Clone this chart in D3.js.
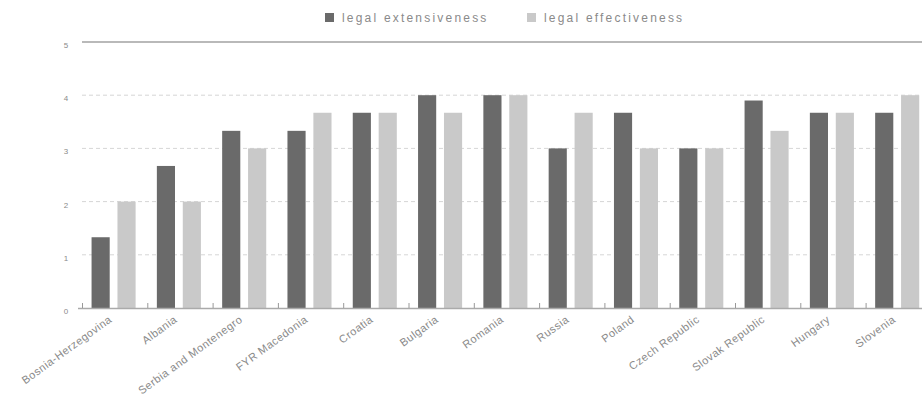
<!DOCTYPE html>
<html>
<head>
<meta charset="utf-8">
<script src="https://cdn.jsdelivr.net/npm/d3@7"></script>
<style>
  html, body { margin: 0; padding: 0; background: #fff; }
  svg { display: block; font-family: "Liberation Sans", Arial, sans-serif; }
</style>
</head>
<body>
<svg id="chart" width="922" height="404"></svg>
<script>
// Country scores on the two legal dimensions (scale 0–5)
const countries = [
  "Bosnia-Herzegovina", "Albania", "Serbia and Montenegro", "FYR Macedonia",
  "Croatia", "Bulgaria", "Romania", "Russia", "Poland", "Czech Republic",
  "Slovak Republic", "Hungary", "Slovenia"
];
const seriesNames = ["legal extensiveness", "legal effectiveness"];
const extensiveness = [1.33, 2.67, 3.33, 3.33, 3.67, 4.0, 4.0, 3.0, 3.67, 3.0, 3.9, 3.67, 3.67];
const effectiveness = [2.0, 2.0, 3.0, 3.67, 3.67, 3.67, 4.0, 3.67, 3.0, 3.0, 3.33, 3.67, 4.0];
const yTicks = [0, 1, 2, 3, 4, 5];

const colors = ["#6a6a6a", "#c9c9c9"];
const svg = d3.select("#chart");

const left = 82, bandStep = 65.3;
const y = d3.scaleLinear().domain([0, 5]).range([308, 42]);
const x0 = d3.scaleBand().domain(countries)
  .range([left, left + bandStep * countries.length]).paddingInner(0).paddingOuter(0);
const x1 = d3.scaleBand().domain(seriesNames).range([0, x0.bandwidth()])
  .paddingInner(0.3).paddingOuter(0.41).align(0.45);

const rows = countries.map((c, i) => ({ country: c, values: [extensiveness[i], effectiveness[i]] }));

// Gridlines for 1..4 (dashed), solid rule at 5
const grid = svg.append("g");
grid.selectAll("line.g").data(yTicks.filter(t => t > 0 && t < 5)).join("line")
  .attr("x1", left).attr("x2", 922)
  .attr("y1", d => y(d)).attr("y2", d => y(d))
  .attr("stroke", "#d6d6d6").attr("stroke-width", 1).attr("stroke-dasharray", "4,3");
grid.append("line")
  .attr("x1", left).attr("x2", 922).attr("y1", y(5)).attr("y2", y(5))
  .attr("stroke", "#b9b9b9").attr("stroke-width", 2);

// Y axis labels
const yAxis = d3.axisLeft(y).tickValues(yTicks).tickSize(0).tickPadding(0).tickFormat(d3.format("d"));
const ya = svg.append("g").attr("transform", `translate(66,3)`).call(yAxis);
ya.select(".domain").remove();
ya.selectAll("text").attr("fill", "#8a8a8a").attr("font-size", 8).attr("text-anchor", "middle");

// Bars
const groups = svg.append("g").selectAll("g").data(rows).join("g")
  .attr("transform", d => `translate(${x0(d.country)},0)`);
groups.selectAll("rect").data(d => d.values.map((v, k) => ({ k, v }))).join("rect")
  .attr("x", d => x1(seriesNames[d.k]))
  .attr("width", x1.bandwidth())
  .attr("y", d => y(d.v))
  .attr("height", d => y(0) - y(d.v))
  .attr("fill", d => colors[d.k]);

// Baseline with small upward ticks at band edges
const xb = svg.append("g").attr("transform", `translate(0,${y(0)})`);
xb.append("line").attr("x1", left - 4).attr("x2", 922).attr("y1", 0.5).attr("y2", 0.5)
  .attr("stroke", "#aaaaaa").attr("stroke-width", 1.5);
xb.selectAll("line.t").data(countries).join("line").attr("class", "t")
  .attr("x1", d => x0(d) + 0.5).attr("x2", d => x0(d) + 0.5)
  .attr("y1", 0).attr("y2", -5).attr("stroke", "#999").attr("stroke-width", 1);

// Category labels, rotated
const xl = d3.axisBottom(x0).tickSize(0).tickPadding(0);
const xlg = svg.append("g").attr("transform", `translate(0,${y(0)})`).call(xl);
xlg.select(".domain").remove();
xlg.selectAll("text")
  .attr("fill", "#8a8a8a").attr("font-size", 11).attr("letter-spacing", 0.5)
  .attr("text-anchor", "end")
  .attr("transform", "translate(-2,13) rotate(-36)")
  .attr("dy", 0).attr("y", 0).attr("x", 0);

// Legend
const legend = svg.append("g").attr("transform", "translate(325,13)");
const legX = [0, 202];
seriesNames.forEach((name, k) => {
  const g = legend.append("g").attr("transform", `translate(${legX[k]},0)`);
  g.append("rect").attr("width", 9).attr("height", 9).attr("fill", colors[k]);
  g.append("text").attr("x", 17).attr("y", 8.5).text(name)
    .attr("fill", "#8a8a8a").attr("font-size", 12).attr("letter-spacing", 2.2);
});
</script>
</body>
</html>
